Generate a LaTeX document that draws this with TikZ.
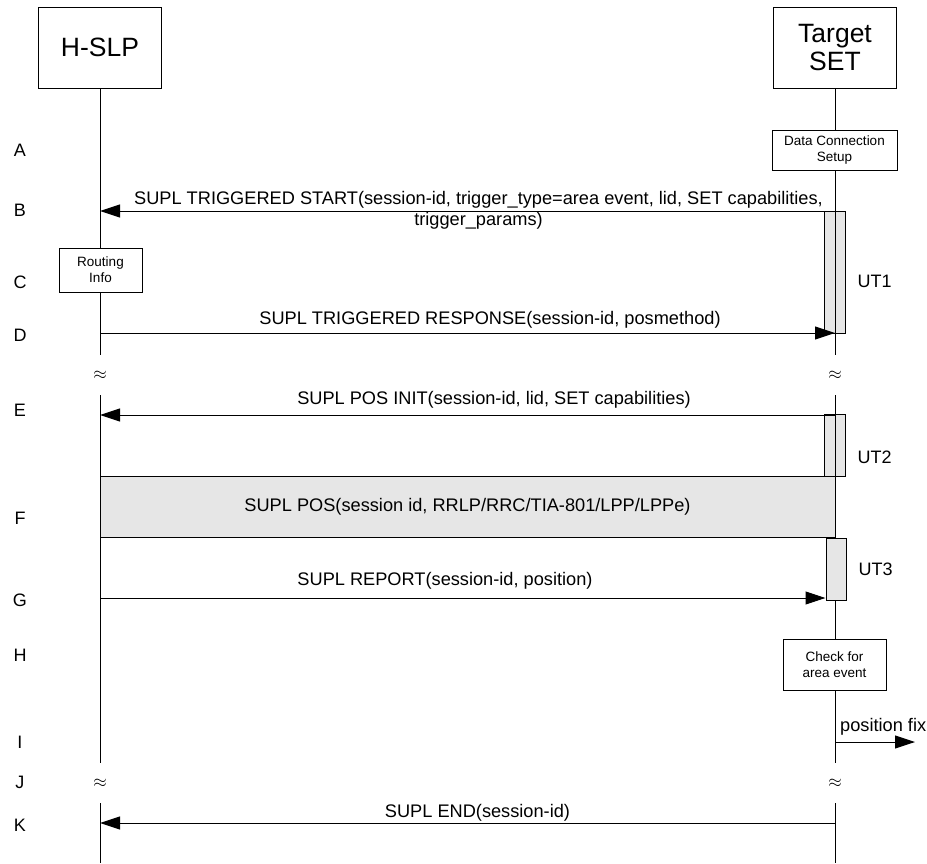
\documentclass[tikz,border=0pt]{standalone}
\usepackage{fontspec}
\setmainfont{Liberation Sans}
\usetikzlibrary{arrows.meta, positioning}

\definecolor{boxgray}{HTML}{E6E6E6}

\begin{document}
\begin{tikzpicture}[
            x=1pt, y=-1pt,
            entity/.style={
                    rectangle,
                    draw=black,
                    line width=1pt,
                    fill=white,
                    align=center,
                    font=\fontsize{26.5}{28}\selectfont,
                    minimum width=123pt,
                    minimum height=81pt,
                    inner sep=0pt
                },
            action/.style={
                    rectangle,
                    draw=black,
                    line width=1pt,
                    fill=white,
                    align=center,
                    font=\fontsize{13.5}{16}\selectfont,
                    inner sep=0pt
                },
            timer/.style={
                    rectangle,
                    draw=black,
                    line width=1pt,
                    fill=boxgray,
                    inner sep=0pt
                },
            life/.style={
                    draw,
                    line width=1pt
                },
            msg/.style={
                    draw,
                    line width=1pt,
                    -{Triangle[length=20pt,width=13pt]}
                },
            msgtext/.style={
                    font=\fontsize{18.2}{21}\selectfont,
                    align=center,
                    inner sep=0pt
                },
            steplabel/.style={
                    font=\fontsize{18}{21}\selectfont,
                    inner sep=0pt
                },
            approx/.style={
                    minimum height=40pt,
                    inner sep=0pt,
                    font=\fontsize{18}{18}\selectfont
                }
        ]

        \useasboundingbox (0,0) rectangle (927,863);

        % Entities
        \node [entity] (hslp) at (100,47.5) {H-SLP};
        \node [entity] (tset) at (835,47.5) {Target\\SET};

        % Breaks
        \node [approx] (hbreak1) at (100,375) {$\approx$};
        \node [approx] (tbreak1) at (835,375) {$\approx$};
        \node [approx] (hbreak2) at (100,783) {$\approx$};
        \node [approx] (tbreak2) at (835,783) {$\approx$};
        \coordinate (hend) at (100,863);
        \coordinate (tend) at (835,863);

        % Timers and positioning session
        \node [timer, minimum width=21pt, minimum height=122pt] (ut1) at (834.5,272) {};
        \node [timer, minimum width=21pt, minimum height=62pt] (ut2) at (834.5,445) {};
        \node [timer, minimum width=735pt, minimum height=61pt, msgtext] (pos) at (467.5,506.5) {SUPL POS(session id, RRLP/RRC/TIA-801/LPP/LPPe)};

        % Lifelines
        \path [life] (hslp.south) -- (hbreak1.north);
        \path [life] (hbreak1.south) -- (hbreak2.north);
        \path [life] (hbreak2.south) -- (hend);
        \path [life] (tset.south) -- (tbreak1.north);
        \path [life] (tbreak1.south) -- (tbreak2.north);
        \path [life] (tbreak2.south) -- (tend);

        % Local actions
        \node [action, minimum width=125pt, minimum height=40pt] (datacon) at (834.5,150) {Data Connection\\Setup};
        \node [action, minimum width=83pt, minimum height=44pt] (routing) at (100.5,270) {Routing\\Info};
        \node [action, minimum width=103pt, minimum height=51pt] (check) at (834.5,664.5) {Check for\\area event};
        \node [timer, minimum width=20pt, minimum height=62pt] (ut3) at (836,569) {};

        % Timer labels
        \node [steplabel, right=12pt of ut1, yshift=-9pt] {UT1};
        \node [steplabel, right=12pt of ut2, yshift=-12pt] {UT2};
        \node [steplabel, right=12pt of ut3] {UT3};

        % Messages
        \path [msg] (tset |- 0,211) -- (hslp |- 0,211);
        \path [msg] (hslp |- 0,333) -- (tset |- 0,333);
        \path [msg] (tset |- 0,415) -- (hslp |- 0,415);
        \path [msg] (hslp |- 0,598) -- (ut3.west |- 0,598);
        \path [msg] (tset |- 0,823) -- (hslp |- 0,823);
        \coordinate (fixend) at (915,742);
        \path [msg] (tset |- fixend) -- (fixend);

        % Message texts
        \node [msgtext, anchor=base] at (478.5,225) {SUPL TRIGGERED START(session-id, trigger\_type=area event, lid, SET capabilities,\\trigger\_params)};
        \node [msgtext, anchor=base] at (490,324) {SUPL TRIGGERED RESPONSE(session-id, posmethod)};
        \node [msgtext, anchor=base] at (494,404) {SUPL POS INIT(session-id, lid, SET capabilities)};
        \node [msgtext, anchor=base] at (445,585) {SUPL REPORT(session-id, position)};
        \node [msgtext, anchor=base] at (477.5,817) {SUPL END(session-id)};
        \node [msgtext, anchor=base west] at (840,731) {position fix};

        % Step labels
        \foreach \lbl/\ypos in {A/150, B/210, C/282, D/335, E/410, F/518, G/600, H/655, I/742, J/782, K/825}
            \node [steplabel] at (20,\ypos) {\lbl};
    \end{tikzpicture}
\end{document}
